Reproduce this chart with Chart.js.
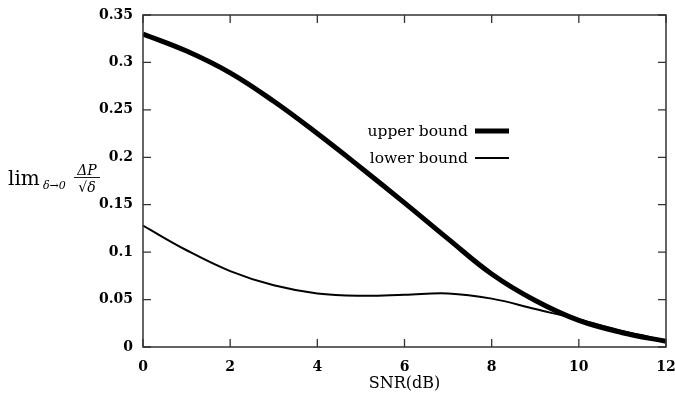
<!DOCTYPE html>
<html>
<head>
<meta charset="utf-8">
<script src="https://cdn.jsdelivr.net/npm/chart.js@4"></script>
<style>
  html, body { margin: 0; padding: 0; background: #fff; }
  #wrap { width: 675px; height: 401px; }
</style>
</head>
<body>
<div id="wrap"><canvas id="lineChart" width="675" height="401"></canvas></div>
<script>
// values
var snr = [0, 1, 2, 3, 4, 5, 6, 7, 8, 9, 10, 11, 12];
var upperBound = [0.330, 0.312, 0.289, 0.259, 0.225, 0.189, 0.152, 0.114, 0.077, 0.049, 0.028, 0.015, 0.006];
var lowerBound = [0.128, 0.102, 0.080, 0.065, 0.0565, 0.054, 0.055, 0.0565, 0.051, 0.040, 0.029, 0.017, 0.0065];
var xTicks = [0, 2, 4, 6, 8, 10, 12];
var yTicks = [0, 0.05, 0.1, 0.15, 0.2, 0.25, 0.3, 0.35];
var seriesLabels = ["upper bound", "lower bound"];

function toPoints(xs, ys) {
  return xs.map(function (x, i) { return { x: x, y: ys[i] }; });
}

// frame with inward ticks on all four sides, plus legend and y-axis label
var framePlugin = {
  id: "frame",
  afterDraw: function (chart) {
    var ctx = chart.ctx;
    var a = chart.chartArea;
    var xs = chart.scales.x;
    var ys = chart.scales.y;
    ctx.save();
    ctx.strokeStyle = "#333";
    ctx.lineWidth = 1.5;
    ctx.strokeRect(a.left, a.top, a.right - a.left, a.bottom - a.top);
    ctx.lineWidth = 1.3;
    ctx.beginPath();
    xTicks.forEach(function (v) {
      var px = xs.getPixelForValue(v);
      ctx.moveTo(px, a.bottom); ctx.lineTo(px, a.bottom - 8);
      ctx.moveTo(px, a.top); ctx.lineTo(px, a.top + 8);
    });
    yTicks.forEach(function (v) {
      var py = ys.getPixelForValue(v);
      ctx.moveTo(a.left, py); ctx.lineTo(a.left + 8, py);
      ctx.moveTo(a.right, py); ctx.lineTo(a.right - 8, py);
    });
    ctx.stroke();

    // legend: text then a line sample
    ctx.fillStyle = "#000";
    ctx.font = "15.5px 'DejaVu Serif'";
    ctx.textAlign = "right";
    ctx.textBaseline = "alphabetic";
    var legendY = [136, 163];
    chart.data.datasets.forEach(function (ds, i) {
      ctx.fillText(ds.label, 468, legendY[i]);
      ctx.strokeStyle = "#000";
      ctx.lineWidth = ds.borderWidth;
      ctx.beginPath();
      ctx.moveTo(475, legendY[i] - 5);
      ctx.lineTo(509, legendY[i] - 5);
      ctx.stroke();
    });

    // y-axis label: lim_{δ→0} ΔP/√δ
    ctx.textAlign = "left";
    ctx.font = "20px 'DejaVu Serif'";
    ctx.fillText("lim", 8, 185);
    ctx.font = "italic 11px 'DejaVu Serif'";
    ctx.fillText("δ→0", 43, 189);
    ctx.textAlign = "center";
    ctx.font = "italic 14px 'DejaVu Serif'";
    ctx.fillText("ΔP", 87, 175);
    ctx.fillText("√δ", 87, 192);
    ctx.lineWidth = 0.9;
    ctx.beginPath();
    ctx.moveTo(74, 177.5);
    ctx.lineTo(100, 177.5);
    ctx.stroke();
    ctx.restore();
  },
};

var tickFont = { family: "'DejaVu Serif'", size: 14, weight: "bold" };

new Chart(document.getElementById("lineChart"), {
  type: "line",
  data: {
    datasets: [
      {
        label: seriesLabels[0],
        data: toPoints(snr, upperBound),
        borderColor: "#000",
        borderWidth: 5,
        pointRadius: 0,
        fill: false,
        tension: 0.4,
      },
      {
        label: seriesLabels[1],
        data: toPoints(snr, lowerBound),
        borderColor: "#000",
        borderWidth: 2,
        pointRadius: 0,
        fill: false,
        tension: 0.4,
      },
    ],
  },
  options: {
    responsive: false,
    animation: false,
    layout: { padding: { top: 15, right: 9, left: 0, bottom: 0 } },
    plugins: {
      legend: { display: false },
      tooltip: { enabled: false },
    },
    scales: {
      x: {
        type: "linear",
        min: 0,
        max: 12,
        afterBuildTicks: function (scale) {
          scale.ticks = xTicks.map(function (v) { return { value: v }; });
        },
        grid: { display: false, drawTicks: false },
        border: { display: false },
        ticks: { font: tickFont, color: "#000", padding: 12, maxRotation: 0 },
        title: {
          display: true,
          text: "SNR(dB)",
          font: { family: "'DejaVu Serif'", size: 16 },
          color: "#000",
          padding: { top: 0, bottom: 8 },
        },
        afterFit: function (scale) {
          scale.height = 54;
          scale.paddingLeft = 0;
          scale.paddingRight = 0;
        },
      },
      y: {
        type: "linear",
        min: 0,
        max: 0.35,
        afterBuildTicks: function (scale) {
          scale.ticks = yTicks.map(function (v) { return { value: v }; });
        },
        grid: { display: false, drawTicks: false },
        border: { display: false },
        ticks: {
          font: tickFont,
          color: "#000",
          padding: 10,
          callback: function (v) { return String(Number(v.toFixed(2))); },
        },
        afterFit: function (scale) {
          scale.width = 143;
          scale.paddingTop = 0;
          scale.paddingBottom = 0;
        },
      },
    },
  },
  plugins: [framePlugin],
});
</script>
</body>
</html>
